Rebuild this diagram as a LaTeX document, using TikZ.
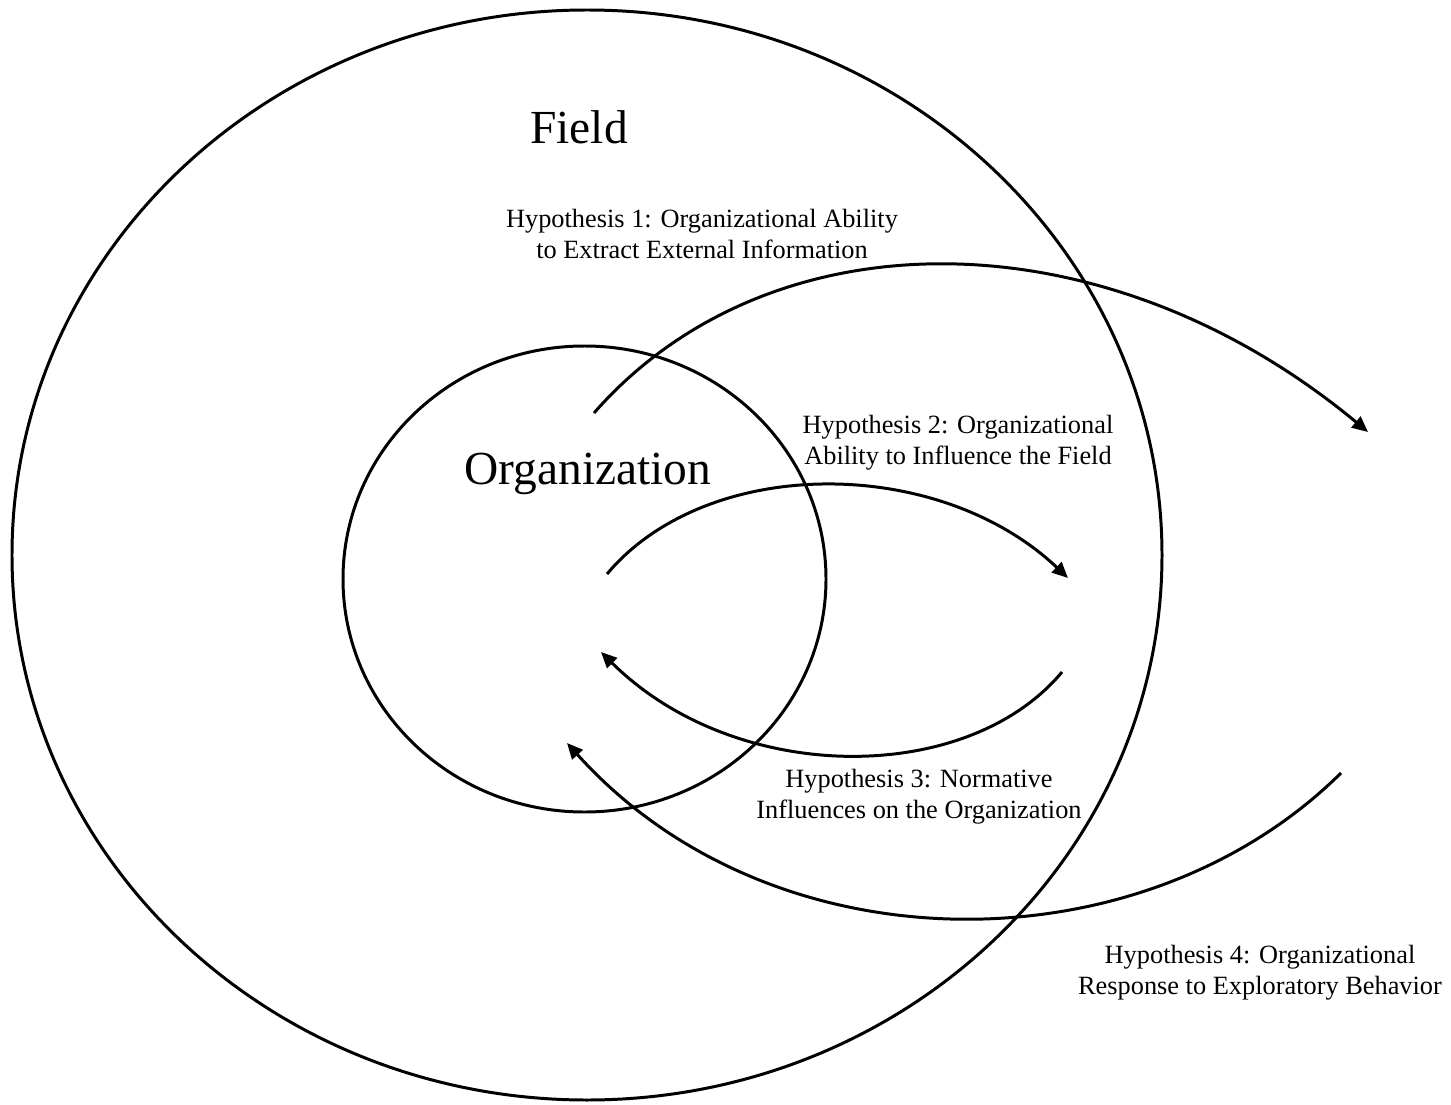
\documentclass[tikz,border=0pt]{standalone}
\usepackage{fontspec}
\setmainfont{Liberation Serif}
\usetikzlibrary{arrows.meta}

\tikzset{
  ring/.style={line width=1.7pt},
  hyp/.style={line width=1.7pt, -{Triangle[length=9pt,width=8pt]}},
  hyplabel/.style={align=center, inner sep=0pt, font=\fontsize{15}{17.6}\selectfont},
  biglabel/.style={inner sep=0pt, font=\fontsize{27}{30}\selectfont}
}

\begin{document}
\begin{tikzpicture}[x=0.02cm, y=-0.02cm]
        \useasboundingbox (0,0) rectangle (1451,1105);

        % the two rings
        \coordinate (field) at (587,555);
        \coordinate (org)   at (584.5,579);
        \draw[ring] (field) ellipse [x radius=575, y radius=545];
        \draw[ring] (org) ellipse [x radius=241.5, y radius=233];

        \node[biglabel] (fieldtxt) at (579,127) {Field};
        \node[biglabel] (orgtxt)   at (588,474) {Organization};

        % ends of the hypothesis arcs
        \coordinate (h1a) at (594,413);
        \coordinate (h1b) at (1368,432);
        \coordinate (h2a) at (607,574);
        \coordinate (h2b) at (1068,578);
        \coordinate (h3a) at (1062,672);
        \coordinate (h3b) at (601,652);
        \coordinate (h4a) at (1341,773);
        \coordinate (h4b) at (567,743);

        \draw[hyp] (h1a) .. controls +(175,-200) and +(-265,-220) .. (h1b);
        \draw[hyp] (h2a) .. controls +(100,-119) and +(-130,-123) .. (h2b);
        \draw[hyp] (h3a) .. controls +(-95,114) and +(135,134) .. (h3b);
        \draw[hyp] (h4a) .. controls +(-200,198) and +(205,228) .. (h4b);

        \node[hyplabel] (h1) at (702,234) {Hypothesis 1: Organizational Ability\\to Extract External Information};
        \node[hyplabel] (h2) at (958,443) {Hypothesis 2: Organizational\\Ability to Influence the Field};
        \node[hyplabel] (h3) at (919,797) {Hypothesis 3: Normative\\Influences on the Organization};
        \node[hyplabel] (h4) at (1260,973) {Hypothesis 4: Organizational\\Response to Exploratory Behavior};
\end{tikzpicture}
\end{document}
